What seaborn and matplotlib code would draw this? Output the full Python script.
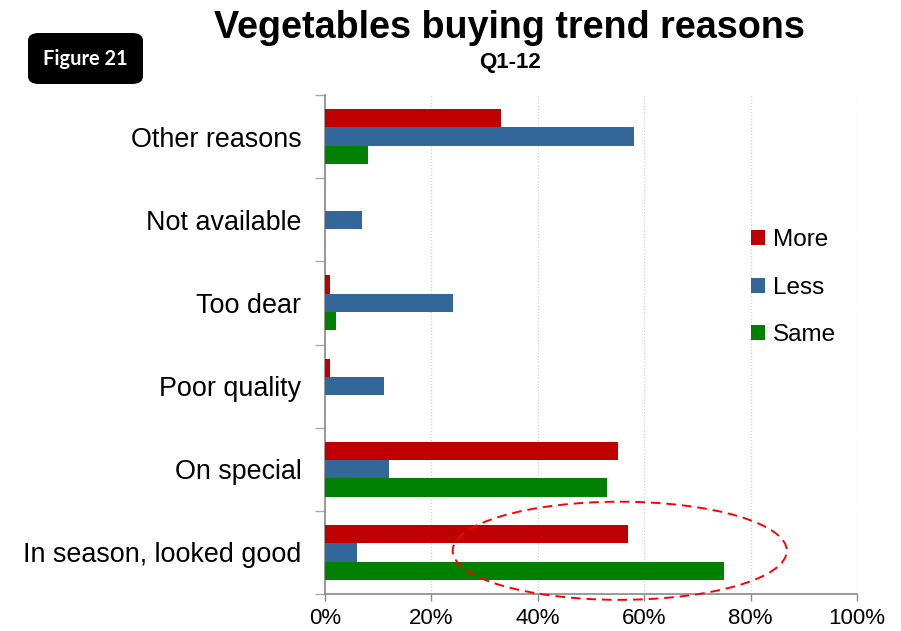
import matplotlib
matplotlib.use("Agg")
import matplotlib.pyplot as plt
from matplotlib.patches import Ellipse, FancyBboxPatch, Patch
from matplotlib.ticker import FixedLocator, PercentFormatter
import numpy as np
import pandas as pd
import seaborn as sns

reasons = ["Other reasons", "Not available", "Too dear", "Poor quality",
           "On special", "In season, looked good"]
trends = ["More", "Less", "Same"]
more = [33, 0, 1, 1, 55, 57]
less = [58, 7, 24, 11, 12, 6]
same = [8, 0, 2, 0, 53, 75]
x_ticks = [0, 20, 40, 60, 80, 100]
colors = ["#C00000", "#336699", "#008000"]

df = pd.DataFrame({
    "reason": reasons * 3,
    "trend": np.repeat(trends, len(reasons)),
    "value": more + less + same,
})

sns.set_theme(style="white")
plt.rcParams["font.family"] = ["Liberation Sans", "DejaVu Sans"]
plt.rcParams["text.color"] = "black"
plt.rcParams["xtick.color"] = "black"
plt.rcParams["ytick.color"] = "black"

fig = plt.figure(figsize=(9.01, 6.31), dpi=100)
ax = fig.add_axes([0.3607, 0.0586, 0.5905, 0.7908])

sns.barplot(data=df, x="value", y="reason", hue="trend", order=reasons,
            hue_order=trends, palette=colors, saturation=1, orient="h",
            width=0.66, gap=0, linewidth=0, ax=ax, legend=False, zorder=3)

ax.set_xlim(0, 100)
ax.set_ylim(len(reasons) - 0.5, -0.5)
ax.set_xlabel("")
ax.set_ylabel("")

# x axis: percent ticks and dotted vertical gridlines
ax.xaxis.set_major_locator(FixedLocator(x_ticks))
ax.xaxis.set_major_formatter(PercentFormatter(decimals=0))
ax.tick_params(axis="x", which="major", length=5, width=1, color="#888888",
               labelcolor="black", direction="out", labelsize=16, pad=5,
               bottom=True)
ax.grid(axis="x", color="#D0D0D0", linestyle=(0, (1, 1.5)), linewidth=0.9, zorder=0)
ax.grid(axis="y", visible=False)

# y axis: tick marks between categories, labels at category centres
ax.yaxis.set_major_locator(FixedLocator(np.arange(-0.5, len(reasons), 1.0)))
ax.yaxis.set_major_formatter(plt.NullFormatter())
ax.yaxis.set_minor_locator(FixedLocator(np.arange(len(reasons))))
ax.set_yticklabels(reasons, minor=True)
ax.tick_params(axis="y", which="major", length=7, width=1, color="#AAAAAA",
               direction="out", left=True)
ax.tick_params(axis="y", which="minor", length=0, labelsize=19.4,
               labelcolor="black", pad=17)

for side in ["top", "right"]:
    ax.spines[side].set_visible(False)
for side in ["left", "bottom"]:
    ax.spines[side].set_color("#888888")
    ax.spines[side].set_linewidth(1.2)

# highlight around the in-season group
ax.add_patch(Ellipse((55.4, 4.98), width=62.8, height=1.18, fill=False,
                     edgecolor="#FF0000", linestyle=(0, (5, 3)), linewidth=1.4,
                     clip_on=False, zorder=5))

handles = [Patch(facecolor=c, edgecolor="none") for c in colors]
fig.legend(handles, trends, loc="upper left", bbox_to_anchor=(0.823, 0.652),
           frameon=False, fontsize=17.5, handlelength=0.55, handleheight=0.55,
           handletextpad=0.35, labelspacing=1.05, borderaxespad=0)

fig.text(0.565, 0.955, "Vegetables buying trend reasons", ha="center", va="center",
         fontsize=27.2, fontweight="bold")
fig.text(0.566, 0.901, "Q1-12", ha="center", va="center",
         fontsize=16, fontweight="bold")

fig.patches.append(FancyBboxPatch((0.0311, 0.8669), 0.1276, 0.0808,
                                  boxstyle="round,pad=0,rounding_size=0.012",
                                  transform=fig.transFigure, facecolor="black",
                                  edgecolor="none"))
fig.text(0.0943, 0.906, "Figure 21", ha="center", va="center", color="white",
         fontsize=14.4, fontweight="bold", family=["Lato", "DejaVu Sans"])

fig.savefig("out.png", dpi=100, facecolor="white")
